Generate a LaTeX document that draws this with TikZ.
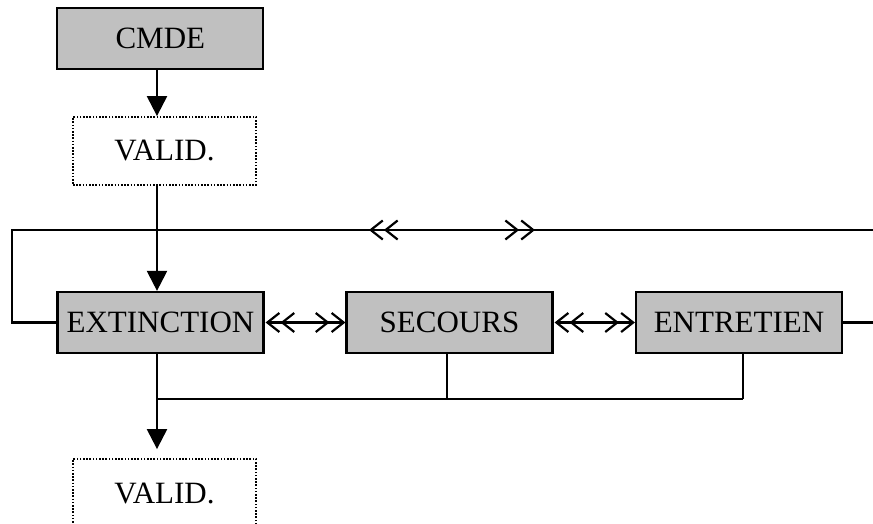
\documentclass[tikz,border=0pt]{standalone}
\usepackage{fontspec}
\setmainfont{Liberation Serif}
\usetikzlibrary{arrows.meta}
\definecolor{boxgray}{HTML}{C0C0C0}
\begin{document}
\begin{tikzpicture}[x=1pt,y=-1pt,line width=2.2pt,
  label/.style={inner sep=0pt, font=\fontsize{31}{36}\selectfont},
  procbox/.style={label, draw, fill=boxgray, minimum width=206pt, minimum height=61pt},
  checkbox/.style={label, draw, line width=1.8pt, dash pattern=on 1.6pt off 1.6pt,
    minimum width=183pt, minimum height=68pt},
  flow/.style={-{Triangle[width=20pt,length=20pt]}},
  twoway/.style={{Straight Barb[length=12pt,width=19pt,sep=1pt]Straight Barb[length=12pt,width=19pt]}-{Straight Barb[length=12pt,width=19pt,sep=1pt]Straight Barb[length=12pt,width=19pt]}},
]
\useasboundingbox (0,0) rectangle (873,524);
\clip (0,0) rectangle (873,524);

% boxes
\node[procbox]  (cmde)   at (160.3,38.5)  {CMDE};
\node[checkbox] (valid1) at (164.5,151)   {VALID.};
\node[procbox]  (ext)    at (160.5,322.5) {EXTINCTION};
\node[procbox]  (sec)    at (449.5,322.5) {SECOURS};
\node[procbox]  (ent)    at (739,322.5)   {ENTRETIEN};
\node[checkbox] (valid2) at (164.5,493)   {VALID.};

% guide coordinates
\coordinate (spine)  at (157,0);
\coordinate (secx)   at (447,0);
\coordinate (entx)   at (743,0);
\coordinate (loopL)  at (12,230);
\coordinate (loopR)  at (873,230);
\coordinate (barL)   at (368,230);
\coordinate (barR)   at (535,230);
\coordinate (rightend) at (873,322.5);
\coordinate (join)   at (157,399);
\coordinate (joinR)  at (743,399);

% main flow
\draw[flow] (cmde.south -| spine) -- (valid1.north -| spine);
\draw[flow] (valid1.south -| spine) -- (ext.north -| spine);
\draw[flow] (ext.south -| spine) -- ([yshift=9pt]valid2.north -| spine);

% return loop over the top
\draw (ext.west) -| (loopL) -- (loopR);
\draw[twoway] (barL) -- (barR);
\draw (ent.east) -- (rightend);

% links between the three activities
\draw[twoway] (ext.east) -- (sec.west);
\draw[twoway] (sec.east) -- (ent.west);

% collecting line below
\draw (join) -- (joinR);
\draw (sec.south -| secx) -- (join -| secx);
\draw (ent.south -| entx) -- (joinR);
\end{tikzpicture}
\end{document}
